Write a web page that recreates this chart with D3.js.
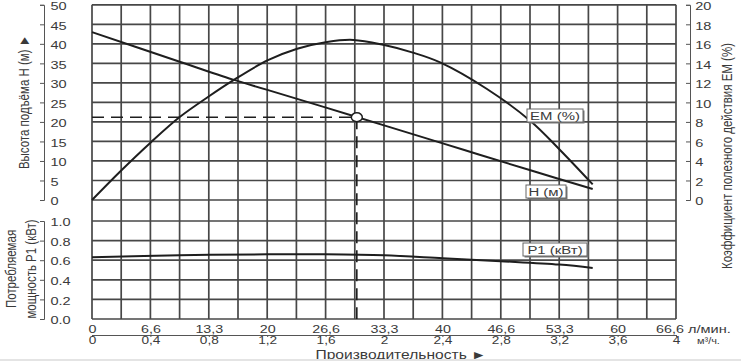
<!DOCTYPE html>
<html>
<head>
<meta charset="utf-8">
<script src="https://cdn.jsdelivr.net/npm/d3@7"></script>
<style>
  body { margin: 0; background: #fff; }
  svg text { font-family: "Liberation Sans", Arial, sans-serif; fill: #3a3a3a; }
</style>
</head>
<body>
<svg></svg>
<script>
;(() => {

    // flow in l/min
    const headFlow = [0, 10, 16, 20, 30, 40, 44.2, 50, 57.1];
    const headValues = [43.0, 35.4, 30.9, 28.2, 21.4, 14.5, 11.6, 7.6, 2.8];
    const effFlow = [0, 3.3, 6.7, 10, 13.3, 16, 20, 23.4, 26.8, 29.8, 33.2, 36.6, 39.7, 45, 50, 53.4, 57.1];
    const effValues = [0, 3.0, 5.9, 8.5, 10.6, 12.2, 14.3, 15.5, 16.2, 16.4, 15.9, 15.1, 14.1, 11.4, 8.1, 5.1, 1.6];
    const powerFlow = [0, 10, 20, 26.6, 33.3, 40, 46.6, 53.3, 57.1];
    const powerValues = [0.63, 0.65, 0.66, 0.66, 0.65, 0.62, 0.59, 0.555, 0.52];
    // duty point marked by the dashed lines
    const dutyFlow = 30.2;
    const dutyHead = 21.2;

    const headTicks = [0, 5, 10, 15, 20, 25, 30, 35, 40, 45, 50];
    const effTicks = [0, 2, 4, 6, 8, 10, 12, 14, 16, 18, 20];
    const powerTicks = [0, 0.2, 0.4, 0.6, 0.8, 1.0];
    const flowLabels = ['0', '6,6', '13,3', '20', '26,6', '33,3', '40', '46,6', '53,3', '60', '66,6'];
    const cubicLabels = ['0', '0,4', '0,8', '1,2', '1,6', '2', '2,4', '2,8', '3,2', '3,6', '4'];

    const width = 741;
    const height = 361;
    const plotLeft = 92;
    const plotRight = 676;
    const gridColor = '#474747';
    const inkColor = '#1e1e1e';
    // the source picture is stretched sideways, text included
    const stretch = 'scale(1.3,1)';

    const svg = d3.select('svg')
        .attr('width', width)
        .attr('height', height);

    const x = d3.scaleLinear().domain([0, 66.6]).range([plotLeft, plotRight]);
    const xCubic = d3.scaleLinear().domain([0, 4]).range([plotLeft, plotRight]);
    const yHead = d3.scaleLinear().domain([0, 50]).range([200, 4.8]);
    const yEff = d3.scaleLinear().domain([0, 20]).range([200, 4.8]);
    const yPower = d3.scaleLinear().domain([0, 1]).range([319, 221]);

    // grid
    const grid = svg.append('g')
        .attr('stroke', gridColor)
        .attr('stroke-width', 1.7)
        .attr('fill', 'none');

    d3.range(21).forEach((i) => {
        const gx = x(i * 66.6 / 20);
        grid.append('line')
            .attr('x1', gx).attr('x2', gx)
            .attr('y1', yHead(50)).attr('y2', yPower(0));
    });
    headTicks.forEach((v) => {
        grid.append('line')
            .attr('x1', plotLeft).attr('x2', plotRight)
            .attr('y1', yHead(v)).attr('y2', yHead(v));
    });
    powerTicks.forEach((v) => {
        grid.append('line')
            .attr('x1', plotLeft).attr('x2', plotRight)
            .attr('y1', yPower(v)).attr('y2', yPower(v));
    });

    function styleAxis(g) {
        g.select('.domain').attr('stroke', '#555').attr('stroke-width', 1);
        g.selectAll('.tick line').attr('stroke', '#555');
        g.selectAll('text')
            .attr('font-size', 11.2)
            .attr('fill', '#3a3a3a')
            .attr('font-family', '"Liberation Sans", Arial, sans-serif')
            .attr('transform', stretch);
    }

    function sideAxis(g) {
        g.call(styleAxis);
        g.selectAll('text').attr('dy', '0.42em');
    }

    // left / right axes: ticks point left, labels on the right
    svg.append('g')
        .attr('transform', 'translate(44,0)')
        .call(d3.axisRight(yHead).tickValues(headTicks).tickSize(-4).tickPadding(5).tickFormat(d3.format('d')))
        .call(sideAxis);

    svg.append('g')
        .attr('transform', 'translate(44,0)')
        .call(d3.axisRight(yPower).tickValues(powerTicks).tickSize(-4).tickPadding(5).tickFormat(d3.format('.1f')))
        .call(sideAxis);

    svg.append('g')
        .attr('transform', 'translate(690,0)')
        .call(d3.axisRight(yEff).tickValues(effTicks).tickSize(-4).tickPadding(4).tickFormat(d3.format('d')))
        .call(sideAxis);

    // bottom double axis
    const bottomY = 335;
    const labelIndex = d3.range(11);

    svg.append('g')
        .attr('transform', 'translate(0,' + bottomY + ')')
        .call(d3.axisTop(x)
            .tickValues(labelIndex.map((i) => i * 6.66))
            .tickSize(0).tickPadding(2)
            .tickFormat((d, i) => flowLabels[i]))
        .call(styleAxis)
        .call((g) => g.selectAll('text').attr('font-size', 11)
            .attr('dx', (d, i) => i === 10 ? -5 : 0));

    svg.append('g')
        .attr('transform', 'translate(0,' + bottomY + ')')
        .call(d3.axisBottom(xCubic)
            .tickValues(labelIndex.map((i) => i * 0.4))
            .tickSize(2).tickPadding(0)
            .tickFormat((d, i) => cubicLabels[i]))
        .call(styleAxis)
        .call((g) => g.selectAll('text').attr('font-size', 10.5));

    svg.append('text')
        .attr('transform', 'translate(688,333) ' + stretch)
        .attr('font-size', 11.2)
        .text('л/мин.');
    svg.append('text')
        .attr('transform', 'translate(697,344) scale(1.15,1)')
        .attr('font-size', 9.5)
        .text('м³/ч.');

    // axis titles
    svg.append('text')
        .attr('transform', 'translate(401,358.5) ' + stretch)
        .attr('text-anchor', 'middle')
        .attr('font-size', 12)
        .text('Производительность ►');

    function sideTitle(text, tx, ty) {
        svg.append('text')
            .attr('transform', 'translate(' + tx + ',' + ty + ') ' + stretch + ' rotate(-90)')
            .attr('text-anchor', 'middle')
            .attr('font-size', 11.5)
            .text(text);
    }

    sideTitle('Высота подъёма Н (м) ►', 29, 102);
    sideTitle('Потребляемая', 16, 269);
    sideTitle('мощность Р1 (кВт)', 36, 269);
    sideTitle('Коэффициент полезного действия ЕМ (%)', 732, 156);

    // duty point dashed guides
    const dashes = svg.append('g')
        .attr('stroke', inkColor)
        .attr('stroke-width', 1.6)
        .attr('stroke-dasharray', '12,7');
    dashes.append('line')
        .attr('x1', plotLeft).attr('x2', x(dutyFlow))
        .attr('y1', yHead(dutyHead)).attr('y2', yHead(dutyHead));
    dashes.append('line')
        .attr('x1', x(dutyFlow)).attr('x2', x(dutyFlow))
        .attr('y1', yHead(dutyHead)).attr('y2', yPower(0));

    // curves
    function drawCurve(flow, values, yScale) {
        const line = d3.line()
            .x((d, i) => x(flow[i]))
            .y((d) => yScale(d))
            .curve(d3.curveCatmullRom.alpha(0.5));
        svg.append('path')
            .attr('d', line(values))
            .attr('fill', 'none')
            .attr('stroke', inkColor)
            .attr('stroke-width', 2);
    }

    drawCurve(headFlow, headValues, yHead);
    drawCurve(effFlow, effValues, yEff);
    drawCurve(powerFlow, powerValues, yPower);

    svg.append('ellipse')
        .attr('cx', x(dutyFlow))
        .attr('cy', yHead(dutyHead))
        .attr('rx', 5.5)
        .attr('ry', 4.5)
        .attr('fill', '#fff')
        .attr('stroke', inkColor)
        .attr('stroke-width', 1.5);

    // curve labels
    function curveLabel(text, lx, ly, w) {
        const g = svg.append('g').attr('transform', 'translate(' + lx + ',' + ly + ')');
        g.append('rect')
            .attr('x', 1.5).attr('y', 1.5)
            .attr('width', w).attr('height', 13)
            .attr('fill', '#777');
        g.append('rect')
            .attr('width', w).attr('height', 13)
            .attr('fill', '#fff')
            .attr('stroke', '#666')
            .attr('stroke-width', 1);
        g.append('text')
            .attr('transform', 'translate(' + (w / 2) + ',10.5) ' + stretch)
            .attr('text-anchor', 'middle')
            .attr('font-size', 11.5)
            .text(text);
    }

    curveLabel('ЕМ (%)', 527, 109, 56);
    curveLabel('Н (м)', 526, 185, 40);
    curveLabel('Р1 (кВт)', 523, 243, 64);

    // thin frame line at the bottom of the picture
    svg.append('rect')
        .attr('x', 0).attr('y', 359)
        .attr('width', width).attr('height', 2)
        .attr('fill', '#e4e4e4');

})();
</script>
</body>
</html>
